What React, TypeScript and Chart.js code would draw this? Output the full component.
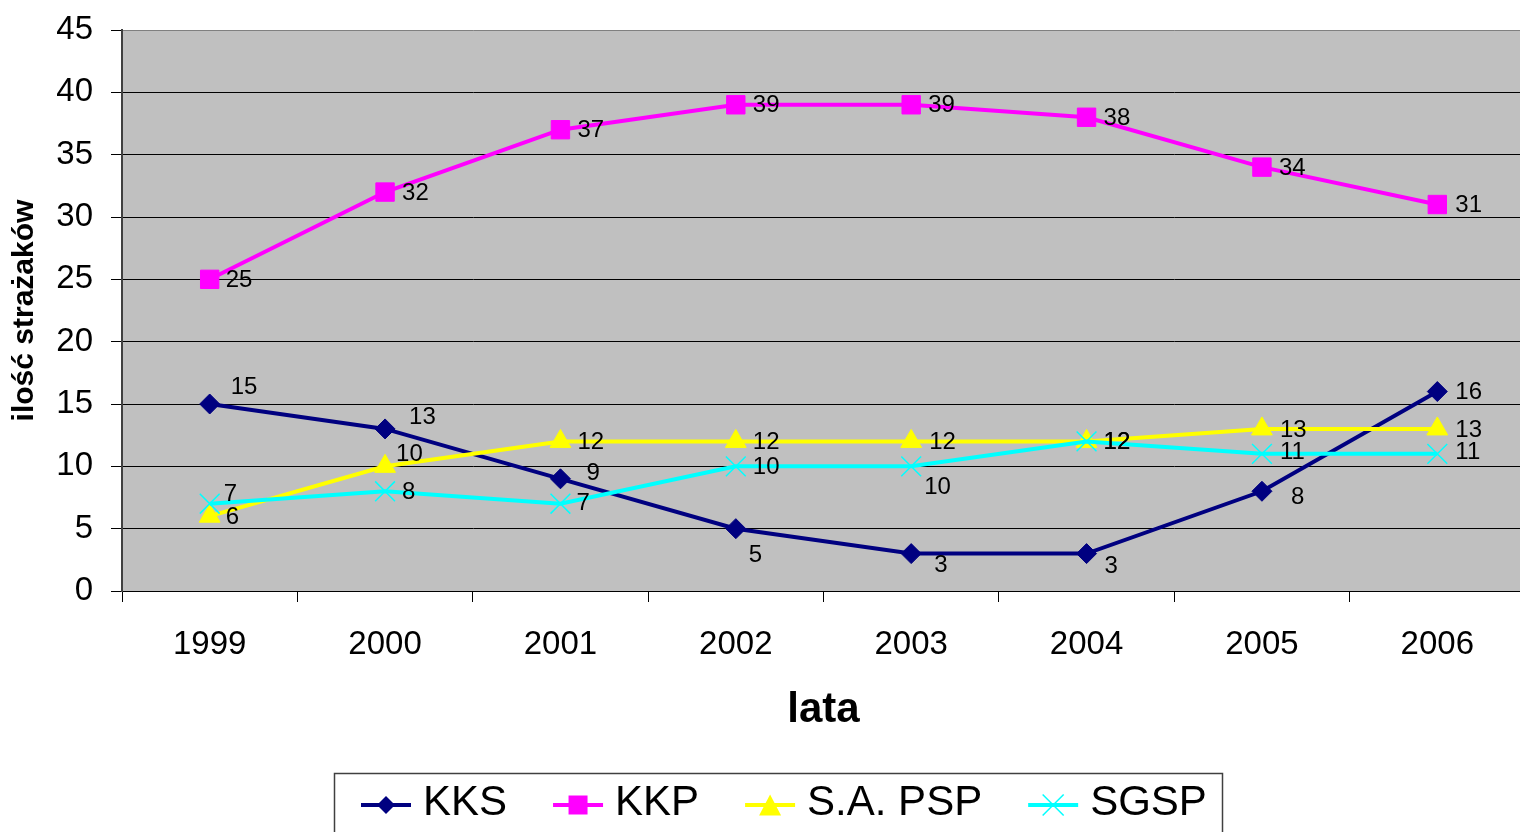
import React, { useEffect, useRef } from 'react';
import { Chart, registerables } from 'chart.js';

Chart.register(...registerables);

const FONT = '"Liberation Sans", Arial, Helvetica, sans-serif';

// ---- data ----
const years = ['1999', '2000', '2001', '2002', '2003', '2004', '2005', '2006'];
const kks = [15, 13, 9, 5, 3, 3, 8, 16];
const kkp = [25, 32, 37, 39, 39, 38, 34, 31];
const saPsp = [6, 10, 12, 12, 12, 12, 13, 13];
const sgsp = [7, 8, 7, 10, 10, 12, 11, 11];
const seriesNames = ['KKS', 'KKP', 'S.A. PSP', 'SGSP'];
const yMin = 0;
const yMax = 45;
const yStep = 5;
const yTitle = 'ilość strażaków';
const xTitle = 'lata';

// ---- styling ----
const seriesColors = ['#000080', '#FF00FF', '#FFFF00', '#00FFFF'];
const seriesPointStyles = ['rectRot', 'rect', 'triangle', 'crossRot'];
const seriesPointRadius = [10, 13, 12, 14];
// pixel offsets of each value label relative to its point (left edge, vertical middle)
const labelOffsets: number[][][] = [
  [[21, -17], [24, -12], [26, -5], [13, 27], [23, 12], [18, 13], [29, 6], [18, 1]],
  [[16, 1], [17, 1], [17, 1], [17, 1], [17, 1], [17, 1], [17, 1], [18, 1]],
  [[16, 1], [11, -12], [17, 1], [17, 1], [18, 1], [17, 1], [18, 1], [18, 1]],
  [[14, -9], [17, 1], [16, 0], [17, 1], [13, 21], [17, 1], [18, -1], [18, -1]],
];

function drawLegendMarker(ctx: CanvasRenderingContext2D, style: string, x: number, y: number, color: string) {
  ctx.save();
  ctx.fillStyle = color;
  ctx.strokeStyle = color;
  ctx.beginPath();
  if (style === 'rectRot') {
    const r = 9;
    ctx.moveTo(x - r, y);
    ctx.lineTo(x, y - r);
    ctx.lineTo(x + r, y);
    ctx.lineTo(x, y + r);
    ctx.closePath();
    ctx.fill();
  } else if (style === 'rect') {
    const s = 9.5;
    ctx.rect(x - s, y - s, 2 * s, 2 * s);
    ctx.fill();
  } else if (style === 'triangle') {
    const w = 11, h = 10.5;
    ctx.moveTo(x, y - h);
    ctx.lineTo(x + w, y + h);
    ctx.lineTo(x - w, y + h);
    ctx.closePath();
    ctx.fill();
  } else {
    const s = 10.5;
    ctx.lineWidth = 1.5;
    ctx.moveTo(x - s, y - s);
    ctx.lineTo(x + s, y + s);
    ctx.moveTo(x + s, y - s);
    ctx.lineTo(x - s, y + s);
    ctx.stroke();
  }
  ctx.restore();
}

const plotBgPlugin = {
  id: 'plotBg',
  beforeDraw(chart: any) {
    const { ctx, chartArea } = chart;
    ctx.save();
    ctx.fillStyle = '#C0C0C0';
    ctx.fillRect(chartArea.left, chartArea.top, chartArea.right - chartArea.left, chartArea.bottom - chartArea.top);
    ctx.restore();
  },
};

const valueLabelPlugin = {
  id: 'valueLabels',
  afterDatasetsDraw(chart: any) {
    const ctx = chart.ctx;
    ctx.save();
    ctx.font = `24px ${FONT}`;
    ctx.fillStyle = '#000000';
    ctx.textAlign = 'left';
    ctx.textBaseline = 'middle';
    chart.data.datasets.forEach((ds: any, i: number) => {
      const meta = chart.getDatasetMeta(i);
      meta.data.forEach((pt: any, j: number) => {
        const off = labelOffsets[i][j];
        ctx.fillText(String(ds.data[j]), pt.x + off[0], pt.y + off[1]);
      });
    });
    ctx.restore();
  },
};

const boxLegendPlugin = {
  id: 'boxLegend',
  afterDraw(chart: any) {
    const ctx: CanvasRenderingContext2D = chart.ctx;
    const boxLeft = 334;
    const boxTop = 773;
    const boxRight = 1222;
    const boxBottom = 836;
    ctx.save();
    ctx.fillStyle = '#FFFFFF';
    ctx.fillRect(boxLeft, boxTop, boxRight - boxLeft, boxBottom - boxTop);
    ctx.strokeStyle = '#404040';
    ctx.lineWidth = 1.5;
    ctx.strokeRect(boxLeft + 0.5, boxTop + 0.5, boxRight - boxLeft, boxBottom - boxTop);
    ctx.font = `42px ${FONT}`;
    ctx.textBaseline = 'middle';
    ctx.textAlign = 'left';
    let x = 361;
    const lineY = 805;
    const textY = 803;
    seriesNames.forEach((name, i) => {
      ctx.strokeStyle = seriesColors[i];
      ctx.lineWidth = 4;
      ctx.beginPath();
      ctx.moveTo(x, lineY);
      ctx.lineTo(x + 50, lineY);
      ctx.stroke();
      drawLegendMarker(ctx, seriesPointStyles[i], x + 25, lineY, seriesColors[i]);
      ctx.fillStyle = '#000000';
      ctx.fillText(name, x + 62, textY);
      x = x + 62 + ctx.measureText(name).width + 46;
    });
    ctx.restore();
  },
};

export default function App() {
  const canvasRef = useRef<HTMLCanvasElement | null>(null);

  useEffect(() => {
    if (!canvasRef.current) return;
    const seriesData = [kks, kkp, saPsp, sgsp];
    const datasets = seriesData.map((d, i) => ({
      label: seriesNames[i],
      data: d,
      borderColor: seriesColors[i],
      backgroundColor: seriesColors[i],
      borderWidth: 4,
      tension: 0,
      fill: false,
      pointStyle: seriesPointStyles[i],
      pointRadius: seriesPointRadius[i],
      pointHoverRadius: seriesPointRadius[i],
      pointBackgroundColor: seriesColors[i],
      pointBorderColor: seriesColors[i],
      pointBorderWidth: seriesPointStyles[i] === 'crossRot' ? 1.5 : 1,
      order: 4 - i,
    }));

    const zeroPad = (scale: any) => {
      scale.paddingLeft = 0;
      scale.paddingRight = 0;
      scale.paddingTop = 0;
      scale.paddingBottom = 0;
    };

    const chart = new Chart(canvasRef.current, {
      type: 'line',
      data: { labels: years, datasets },
      options: {
        responsive: false,
        animation: false,
        devicePixelRatio: 1,
        layout: { autoPadding: false, padding: { top: 30, left: 0, right: 0, bottom: 104 } },
        plugins: {
          legend: { display: false },
          tooltip: { enabled: false },
          title: { display: false },
        },
        scales: {
          x: {
            type: 'category',
            offset: true,
            afterFit: (scale: any) => {
              scale.height = 145;
              zeroPad(scale);
            },
            grid: {
              display: true,
              drawOnChartArea: false,
              drawTicks: true,
              tickLength: 11,
              offset: true,
              color: '#000000',
              lineWidth: 1,
            },
            border: { display: true, color: '#000000', width: 1 },
            ticks: {
              autoSkip: false,
              maxRotation: 0,
              minRotation: 0,
              padding: 23,
              color: '#000000',
              font: { family: FONT, size: 33 },
            },
            title: {
              display: true,
              text: xTitle,
              color: '#000000',
              font: { family: FONT, size: 42, weight: 'bold' },
              padding: { top: 0, bottom: 0 },
            },
          },
          y: {
            min: yMin,
            max: yMax,
            afterFit: (scale: any) => {
              scale.width = 122;
              zeroPad(scale);
            },
            grid: {
              display: true,
              drawTicks: true,
              tickLength: 11,
              color: (c: any) => (c.tick && c.tick.value === yMax ? '#808080' : '#000000'),
              tickColor: '#000000',
              lineWidth: 1,
            },
            border: { display: true, color: '#404040', width: 2 },
            ticks: {
              stepSize: yStep,
              padding: 18,
              color: '#000000',
              font: { family: FONT, size: 33 },
            },
            title: {
              display: true,
              text: yTitle,
              color: '#000000',
              font: { family: FONT, size: 30, weight: 'bold' },
              padding: { top: 7, bottom: 0 },
            },
          },
        },
      },
      plugins: [plotBgPlugin, valueLabelPlugin, boxLegendPlugin],
    } as any);

    return () => {
      chart.destroy();
    };
  }, []);

  return (
    <div style={{ position: 'fixed', left: 0, top: 0, width: 1525, height: 840, background: '#FFFFFF' }}>
      <canvas ref={canvasRef} width={1525} height={840} style={{ display: 'block', width: 1525, height: 840 }} />
    </div>
  );
}
